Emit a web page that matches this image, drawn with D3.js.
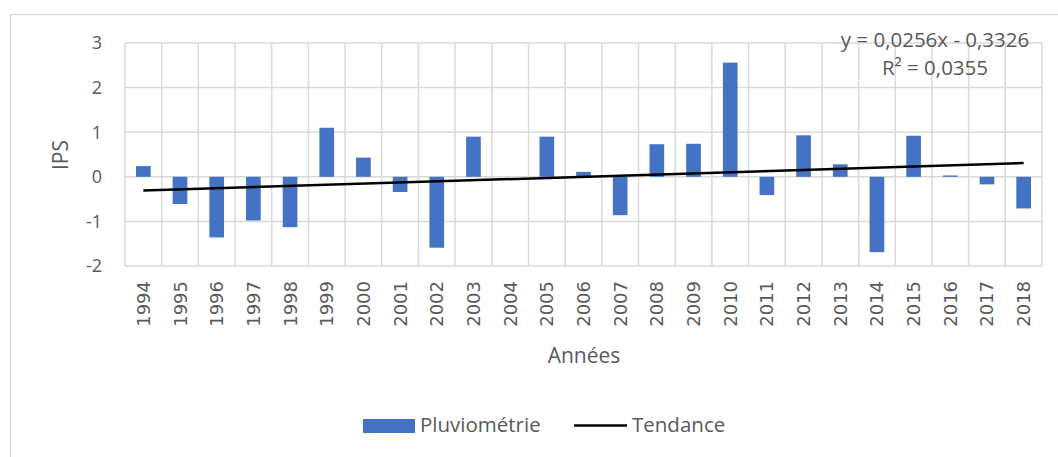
<!DOCTYPE html>
<html>
<head>
<meta charset="utf-8">
<script src="https://cdn.jsdelivr.net/npm/d3@7"></script>
<style>
  body { margin: 0; background: #fff; }
  text { font-family: "Open Sans", sans-serif; fill: #595959; }
</style>
</head>
<body>
<svg id="chart" width="1058" height="457"></svg>
<script>
const years = ["1994", "1995", "1996", "1997", "1998", "1999", "2000", "2001", "2002", "2003",
  "2004", "2005", "2006", "2007", "2008", "2009", "2010", "2011", "2012", "2013",
  "2014", "2015", "2016", "2017", "2018"];
const ips = [0.24, -0.61, -1.36, -0.98, -1.13, 1.10, 0.43, -0.34, -1.59, 0.90,
  0, 0.90, 0.11, -0.86, 0.73, 0.74, 2.56, -0.41, 0.93, 0.28,
  -1.69, 0.92, 0.03, -0.17, -0.71];
const yTicks = [-2, -1, 0, 1, 2, 3];
// trend line: y = a*x + b (x = 1..25)
const trendCoef = [0.0256, -0.3326];
const trendLabel = ["y = 0,0256x - 0,3326", "R² = 0,0355"];
const legendLabels = ["Pluviométrie", "Tendance"];

const svg = d3.select("#chart");
const plotL = 125, plotR = 1042, plotT = 43, plotB = 266;

// chart area border (runs off the picture on the right and bottom)
svg.append("rect")
  .attr("x", 10.5).attr("y", 14.5)
  .attr("width", 1100).attr("height", 500)
  .attr("fill", "none")
  .attr("stroke", "#d9d9d9")
  .attr("stroke-width", 1.3);

const x = d3.scaleBand()
  .domain(years)
  .range([plotL, plotR])
  .paddingInner(0.6)
  .paddingOuter(0.3);

const y = d3.scaleLinear()
  .domain([-2, 3])
  .range([plotB, plotT]);

const grid = svg.append("g")
  .attr("stroke", "#d9d9d9")
  .attr("stroke-width", 1.5);

grid.selectAll("line.h")
  .data(yTicks)
  .join("line")
  .attr("class", "h")
  .attr("x1", plotL).attr("x2", plotR)
  .attr("y1", d => y(d)).attr("y2", d => y(d));

const step = x.step();
grid.selectAll("line.v")
  .data(d3.range(years.length + 1))
  .join("line")
  .attr("class", "v")
  .attr("x1", i => plotL + i * step).attr("x2", i => plotL + i * step)
  .attr("y1", plotT).attr("y2", plotB);

svg.append("g")
  .selectAll("text")
  .data(yTicks)
  .join("text")
  .attr("x", 102)
  .attr("y", d => y(d))
  .attr("dy", "0.35em")
  .attr("text-anchor", "end")
  .attr("font-size", "18px")
  .text(d => d);

svg.append("g")
  .selectAll("text")
  .data(years)
  .join("text")
  .attr("transform", d => `translate(${x(d) + x.bandwidth() / 2},281) rotate(-90)`)
  .attr("dy", "0.36em")
  .attr("text-anchor", "end")
  .attr("font-size", "18px")
  .style("font-family", "'DejaVu Sans', sans-serif")
  .text(d => d);

svg.append("g")
  .selectAll("rect")
  .data(ips)
  .join("rect")
  .attr("x", (d, i) => x(years[i]))
  .attr("width", x.bandwidth())
  .attr("y", d => y(Math.max(0, d)))
  .attr("height", d => Math.abs(y(d) - y(0)))
  .attr("fill", "#4472c4");

const first = years[0], last = years[years.length - 1];
const trendPts = [
  [x(first) + x.bandwidth() / 2, y(trendCoef[0] * 1 + trendCoef[1])],
  [x(last) + x.bandwidth() / 2, y(trendCoef[0] * years.length + trendCoef[1])]
];
svg.append("path")
  .attr("d", d3.line()(trendPts))
  .attr("stroke", "#000")
  .attr("stroke-width", 2.5)
  .attr("fill", "none");

svg.append("g")
  .selectAll("text")
  .data(trendLabel)
  .join("text")
  .attr("x", 935)
  .attr("y", (d, i) => 47 + i * 28)
  .attr("text-anchor", "middle")
  .attr("font-size", "20.5px")
  .text(d => d);

svg.append("text")
  .attr("transform", "translate(68,155) rotate(-90)")
  .attr("text-anchor", "middle")
  .attr("font-size", "21px")
  .text("IPS");

svg.append("text")
  .attr("x", 584)
  .attr("y", 363)
  .attr("text-anchor", "middle")
  .attr("font-size", "21px")
  .text("Années");

const legend = svg.append("g");
legend.append("rect")
  .attr("x", 363).attr("y", 419)
  .attr("width", 52).attr("height", 14)
  .attr("fill", "#4472c4");
legend.append("line")
  .attr("x1", 574).attr("x2", 627)
  .attr("y1", 425.5).attr("y2", 425.5)
  .attr("stroke", "#000")
  .attr("stroke-width", 2.5);
legend.selectAll("text")
  .data(legendLabels)
  .join("text")
  .attr("x", (d, i) => i === 0 ? 420 : 632)
  .attr("y", 432)
  .attr("font-size", "20.5px")
  .text(d => d);
</script>
</body>
</html>
